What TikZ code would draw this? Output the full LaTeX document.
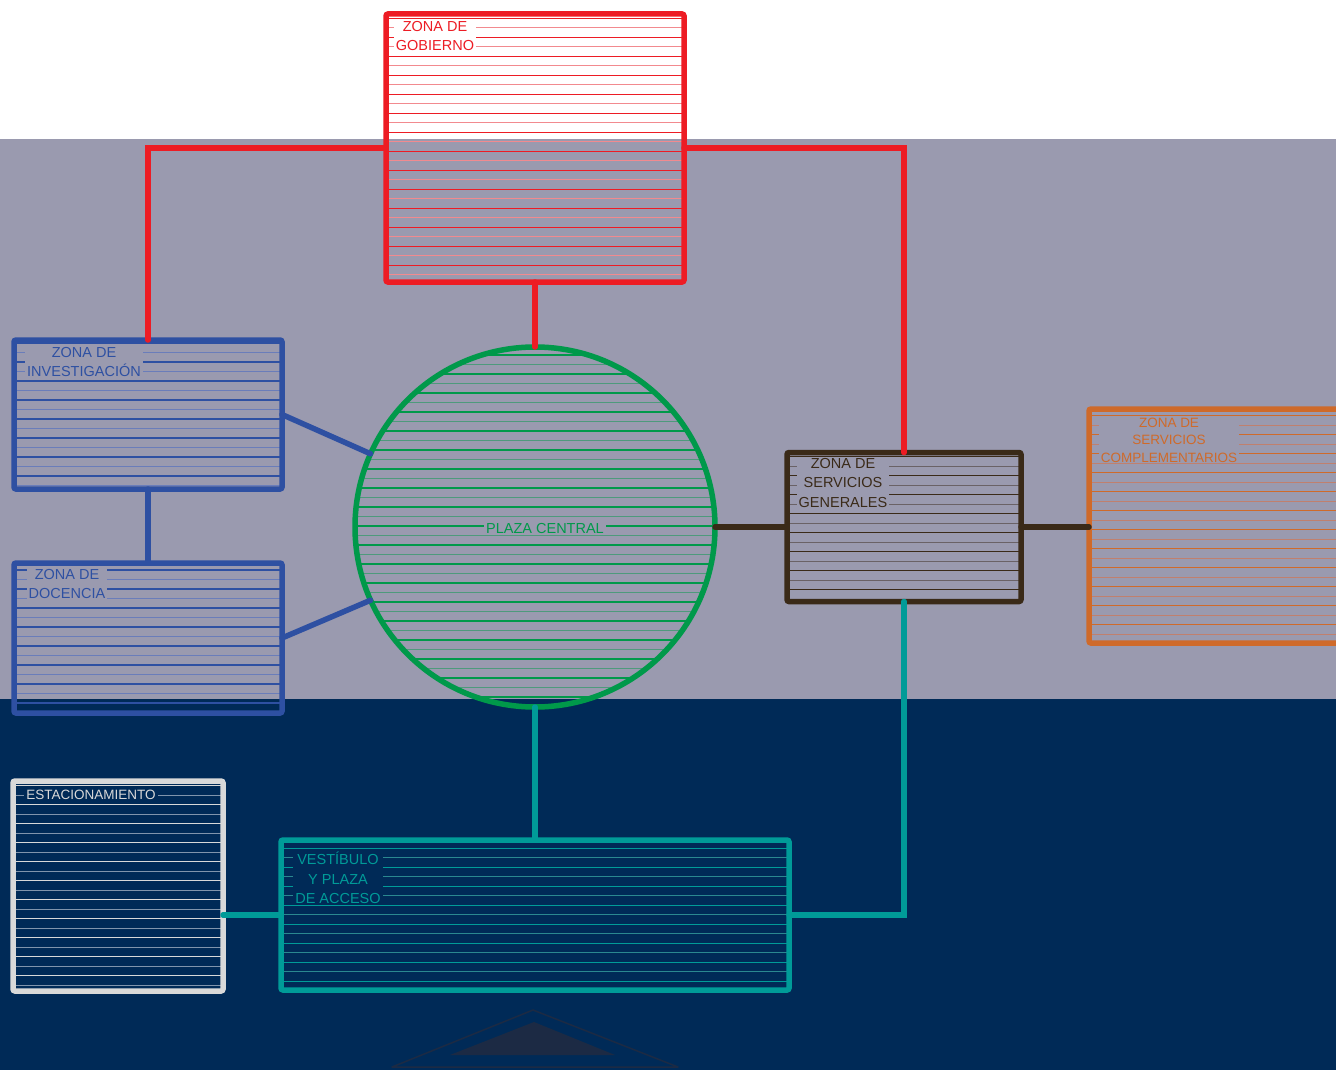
\documentclass[tikz,border=0pt]{standalone}
\usepackage{fontspec}
\setmainfont{Liberation Sans}
\usetikzlibrary{calc}
\definecolor{bggray}{HTML}{9A9AAF}
\definecolor{navy}{HTML}{002A57}
\definecolor{zred}{HTML}{ED1C24}
\definecolor{zredl}{HTML}{F28A8F}
\definecolor{zblue}{HTML}{2E50A2}
\definecolor{zbluel}{HTML}{6A7DBA}
\definecolor{zgreen}{HTML}{00994A}
\definecolor{zgreenl}{HTML}{4E9A7C}
\definecolor{zbrown}{HTML}{3A2A18}
\definecolor{zbrownl}{HTML}{6A6266}
\definecolor{zorange}{HTML}{CF6A2A}
\definecolor{zorangel}{HTML}{C0806E}
\definecolor{zteal}{HTML}{009B98}
\definecolor{ztealb}{HTML}{2A8890}
\definecolor{zlgray}{HTML}{D9D9D9}
\definecolor{zlgrayl}{HTML}{8094AC}
\definecolor{tri}{HTML}{1C2A44}
\newcommand\hatchlines[3]{%
  \foreach \k in {0,...,40}{%
    \ifodd\k\relax\def\hc{#2}\else\def\hc{#1}\fi
    \draw[\hc, line width=1.2pt] ($(path picture bounding box.north west)+(-5,#3+9.5*\k)$) -- ++(2000,0);
  }}
\tikzset{
  zone/.style n args={4}{draw=#1, line width=5.5pt, rounded corners=2pt, inner sep=0pt, outer sep=0pt,
    path picture={\hatchlines{#2}{#3}{#4}}},
  lab/.style 2 args={fill=#2, text=#1, inner xsep=2pt, inner ysep=1pt, align=center,
    font=\fontsize{14.5}{19.5}\selectfont},
  conn/.style={line width=5.5pt, line cap=round},
}
\begin{document}
\begin{tikzpicture}[x=1pt, y=-1pt]
\useasboundingbox (0,0) rectangle (1336,1070);
\clip (0,0) rectangle (1336,1070);
% backgrounds
\fill[white] (0,0) rectangle (1336,139);
\fill[bggray] (0,139) rectangle (1336,699);
\fill[navy] (0,699) rectangle (1336,1070);

% zones
\node[zone={zred}{zred}{zredl}{4.3}, minimum width=298pt, minimum height=268pt] (gob) at (535,148) {};
\node[zone={zblue}{zblue}{zbluel}{3}, minimum width=268pt, minimum height=149pt] (inv) at (148,414.5) {};
\node[zone={zblue}{zblue}{zbluel}{7}, minimum width=268pt, minimum height=150pt] (doc) at (148,638) {};
\node[circle, draw=zgreen, line width=5.5pt, inner sep=0pt, outer sep=0pt, minimum size=360pt,
  path picture={\hatchlines{zgreen}{zgreenl}{8}}] (plaza) at (535,527) {};
\node[zone={zbrown}{zbrown}{zbrownl}{4.2}, minimum width=234pt, minimum height=149pt] (sg) at (904,527) {};
\node[zone={zorange}{zorange}{zorangel}{6.7}, minimum width=257pt, minimum height=234pt] (comp) at (1217.5,526) {};
\node[zone={zlgray}{zlgray}{zlgrayl}{4.7}, minimum width=210pt, minimum height=210pt] (est) at (118,886) {};
\node[zone={zteal}{zteal}{ztealb}{8.3}, minimum width=508pt, minimum height=150pt] (vest) at (535,915) {};

% connectors
\draw[conn, zred] (gob.west) -| (inv.north);
\draw[conn, zred] (gob.east) -| (sg.north);
\draw[conn, zred] (gob.south) -- (plaza.north);
\draw[conn, zblue] (inv.south) -- (doc.north);
\draw[conn, zblue] (inv.east) -- (plaza.156);
\draw[conn, zblue] (doc.east) -- (plaza.204);
\draw[conn, zbrown] (plaza.east) -- (sg.west);
\draw[conn, zbrown] (sg.east) -- (comp.west |- sg.east);
\draw[conn, zteal] (plaza.south) -- (vest.north);
\draw[conn, zteal] (sg.south) |- (vest.east);
\draw[conn, zteal] (vest.west) -- (est.east |- vest.west);

% labels
\node[lab={zred}{white}] (lgob) at (435,36) {ZONA DE\\GOBIERNO};
\node[lab={zblue}{bggray}] (linv) at (84,362) {ZONA DE\\INVESTIGACIÓN};
\node[lab={zblue}{bggray}] (ldoc) at (67,584) {ZONA DE\\DOCENCIA};
\node[lab={zgreen}{bggray}] (lplaza) at (545,529) {PLAZA CENTRAL};
\node[lab={zbrown}{bggray}] (lsg) at (843,483) {ZONA DE\\SERVICIOS\\GENERALES};
\node[lab={zorange}{bggray}, font=\fontsize{13.5}{17.5}\selectfont] (lcomp) at (1169,440) {ZONA DE\\SERVICIOS\\COMPLEMENTARIOS};
\node[lab={zlgray}{navy}, font=\fontsize{13.5}{17}\selectfont] (lest) at (91,795) {ESTACIONAMIENTO};
\node[lab={zteal}{navy}] (lvest) at (338,878) {VESTÍBULO\\Y PLAZA\\DE ACCESO};

% entrance marker
\draw[tri, line width=1.5pt, line join=round] (392,1067) -- (533,1010) -- (678,1067) -- cycle;
\fill[tri] (450,1055) -- (534,1022) -- (615,1055) -- cycle;
\end{tikzpicture}
\end{document}
